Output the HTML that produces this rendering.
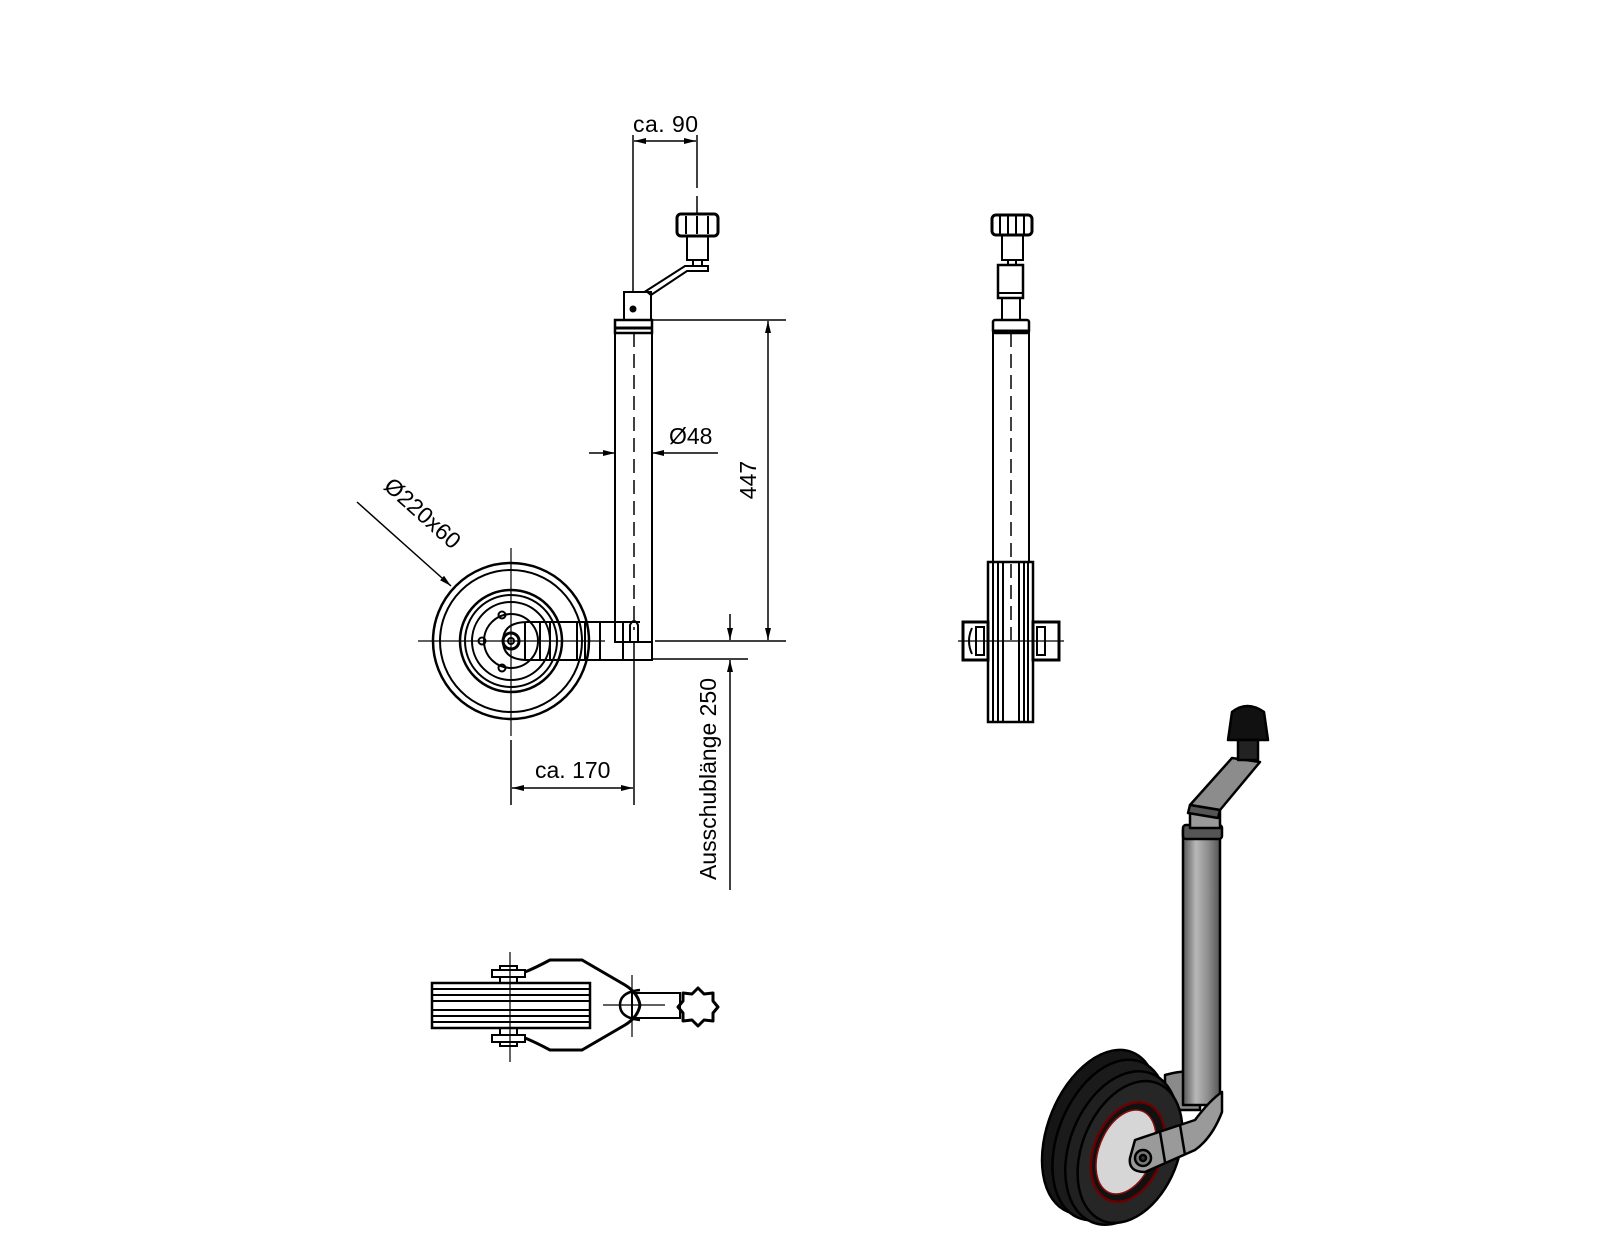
<!DOCTYPE html>
<html><head><meta charset="utf-8"><style>
html,body{margin:0;padding:0;background:#fff}
svg{display:block}
text{font-family:"Liberation Sans Narrow","Liberation Sans",sans-serif;fill:#000}
</style></head><body>
<svg width="1600" height="1236" viewBox="0 0 1600 1236" xmlns="http://www.w3.org/2000/svg">
<defs>
<marker id="a" viewBox="0 0 12 6" refX="12" refY="3" markerWidth="12" markerHeight="6" orient="auto-start-reverse" markerUnits="userSpaceOnUse"><path d="M0,0 L12,3 L0,6 z" fill="#000"/></marker>
<linearGradient id="tg" x1="0" x2="1"><stop offset="0" stop-color="#555"/><stop offset="0.35" stop-color="#b8b8b8"/><stop offset="0.7" stop-color="#8a8a8a"/><stop offset="1" stop-color="#555"/></linearGradient>
</defs>
<g fill="none" stroke="#000" stroke-width="2">
<!-- ca. 90 -->
<line x1="633" y1="135" x2="633" y2="292" stroke-width="1.5"/>
<line x1="697" y1="135" x2="697" y2="188" stroke-width="1.5"/>
<line x1="697" y1="196" x2="697" y2="214" stroke-width="1.5"/>
<line x1="634" y1="141" x2="696" y2="141" stroke-width="1.5" marker-start="url(#a)" marker-end="url(#a)"/>
<!-- knob -->
<rect x="677" y="214" width="41" height="22" rx="4" stroke-width="3"/>
<line x1="686" y1="216" x2="686" y2="234"/><line x1="697" y1="216" x2="697" y2="234"/><line x1="708" y1="216" x2="708" y2="234"/>
<rect x="687" y="236" width="21" height="24"/>
<rect x="693" y="260" width="9" height="6"/>
<path d="M685,266 L708,266 L708,271 L687,271 L651,295 L646,291 Z"/>
<!-- top block -->
<rect x="624" y="292" width="27" height="28"/>
<circle cx="633" cy="309" r="2.5" fill="#000"/>
<!-- tube -->
<rect x="615" y="320" width="37" height="322"/>
<rect x="615" y="320" width="37" height="13" stroke-width="2.5"/>
<line x1="615" y1="328" x2="652" y2="328" stroke-width="3"/>
<line x1="634" y1="333" x2="634" y2="630" stroke-dasharray="14,7" stroke-width="1.5"/>
<line x1="634" y1="642" x2="634" y2="805" stroke-width="1.5"/>
<!-- foot -->
<path d="M630,642 L630,625 Q634,617 638,625 L638,642 L652,642 L652,660 L630,660"/>
<!-- arm -->
<path d="M640,622 L528,622 Q503,622 503,641 Q503,660 528,660 L640,660"/>
<line x1="525" y1="622" x2="525" y2="660"/><line x1="540" y1="622" x2="540" y2="660"/><line x1="550" y1="622" x2="550" y2="660"/>
<line x1="577" y1="622" x2="577" y2="660"/><line x1="585" y1="622" x2="585" y2="660"/><line x1="600" y1="622" x2="600" y2="660"/>
<line x1="623" y1="622" x2="623" y2="660"/>
<!-- wheel -->
<circle cx="511" cy="641" r="78" stroke-width="2.5"/>
<circle cx="511" cy="641" r="71" stroke-width="2"/>
<circle cx="511" cy="641" r="51" stroke-width="2.5"/>
<circle cx="511" cy="641" r="46"/>
<circle cx="511" cy="641" r="39"/>
<circle cx="511" cy="641" r="27"/>
<circle cx="511" cy="641" r="8" stroke-width="3"/>
<circle cx="511" cy="641" r="3"/>
<circle cx="502" cy="615" r="3.5"/><circle cx="482" cy="641" r="3.5"/><circle cx="502" cy="668" r="3.5"/>
<line x1="418" y1="641" x2="605" y2="641" stroke-width="1.2"/>
<line x1="511" y1="548" x2="511" y2="736" stroke-width="1.2"/>
<line x1="511" y1="740" x2="511" y2="805" stroke-width="1.5"/>
<!-- Ø220 leader -->
<line x1="357" y1="502" x2="451" y2="586" stroke-width="1.5" marker-end="url(#a)"/>
<!-- ca. 170 -->
<line x1="512" y1="788" x2="633" y2="788" stroke-width="1.5" marker-start="url(#a)" marker-end="url(#a)"/>
<!-- Ø48 -->
<line x1="589" y1="453" x2="615" y2="453" stroke-width="1.5" marker-end="url(#a)"/>
<line x1="718" y1="453" x2="652" y2="453" stroke-width="1.5" marker-end="url(#a)"/>
<!-- 447 -->
<line x1="652" y1="320" x2="786" y2="320" stroke-width="1.5"/>
<line x1="655" y1="641" x2="786" y2="641" stroke-width="1.5"/>
<line x1="768" y1="321" x2="768" y2="640" stroke-width="1.5" marker-start="url(#a)" marker-end="url(#a)"/>
<!-- 250 -->
<line x1="652" y1="659" x2="748" y2="659" stroke-width="1.5"/>
<line x1="730" y1="614" x2="730" y2="640" stroke-width="1.5" marker-end="url(#a)"/>
<line x1="730" y1="890" x2="730" y2="660" stroke-width="1.5" marker-end="url(#a)"/>

<!-- front view -->
<rect x="992" y="215" width="40" height="20" rx="4" stroke-width="3"/>
<line x1="1000" y1="216" x2="1000" y2="234"/><line x1="1008" y1="216" x2="1008" y2="234"/><line x1="1016" y1="216" x2="1016" y2="234"/><line x1="1024" y1="216" x2="1024" y2="234"/>
<rect x="1002" y="235" width="21" height="25"/>
<rect x="1008" y="260" width="8" height="5"/>
<rect x="998" y="265" width="25" height="33" stroke-width="2.5"/>
<line x1="998" y1="293" x2="1023" y2="293"/>
<rect x="1002" y="298" width="18" height="22"/>
<rect x="993" y="320" width="36" height="13" rx="2" stroke-width="2.5"/>
<line x1="993" y1="331" x2="1029" y2="331" stroke-width="3"/>
<rect x="993" y="333" width="36" height="229"/>
<line x1="1011" y1="333" x2="1011" y2="640" stroke-dasharray="14,7" stroke-width="1.5"/>
<rect x="988" y="562" width="45" height="160" stroke-width="2.5"/>
<line x1="993" y1="562" x2="993" y2="722"/><line x1="998" y1="562" x2="998" y2="722"/><line x1="1003" y1="562" x2="1003" y2="722"/>
<line x1="1019" y1="562" x2="1019" y2="722"/><line x1="1024" y1="562" x2="1024" y2="722"/><line x1="1028" y1="562" x2="1028" y2="722"/>
<rect x="963" y="622" width="25" height="38" stroke-width="3"/>
<rect x="1033" y="622" width="26" height="38" stroke-width="3"/>
<rect x="976" y="627" width="8" height="28"/><rect x="1037" y="627" width="8" height="28"/>
<path d="M972,628 Q966,641 972,654"/>
<line x1="958" y1="641" x2="1064" y2="641" stroke-width="1.2"/>

<!-- bottom view -->
<rect x="432" y="983" width="158" height="45" stroke-width="2.5"/>
<line x1="432" y1="989" x2="590" y2="989"/><line x1="432" y1="995" x2="590" y2="995"/><line x1="432" y1="1001" x2="590" y2="1001"/>
<line x1="432" y1="1010" x2="590" y2="1010"/><line x1="432" y1="1016" x2="590" y2="1016"/><line x1="432" y1="1022" x2="590" y2="1022"/>
<line x1="510" y1="952" x2="510" y2="1062" stroke-width="1.2"/>
<rect x="492" y="970" width="33" height="7"/><rect x="500" y="966" width="17" height="4"/><rect x="500" y="977" width="17" height="6"/>
<rect x="492" y="1035" width="33" height="7"/><rect x="500" y="1042" width="17" height="4"/><rect x="500" y="1028" width="17" height="7"/>
<path d="M525,972 Q535,968 550,960 L582,960 L625,985 Q638,993 640,1005 Q638,1017 625,1025 L582,1050 L550,1050 Q535,1042 525,1038" stroke-width="3"/>
<path d="M640,990 Q620,992 620,1005 Q620,1018 640,1020" stroke-width="2.5"/>
<rect x="632" y="993" width="48" height="25"/>
<line x1="603" y1="1005" x2="665" y2="1005" stroke-width="1.2"/>
<line x1="632" y1="975" x2="632" y2="1037" stroke-width="1.2"/>
<path d="M698,988 L704,994 L713,993 L713,1001 L718,1007 L713,1013 L713,1021 L704,1020 L698,1026 L692,1020 L683,1021 L683,1013 L678,1007 L683,1001 L683,993 L692,994 Z" stroke-width="3" stroke-linejoin="round"/>
</g>

<!-- texts -->
<text x="633" y="132" font-size="23" textLength="65">ca. 90</text>
<text x="669" y="444" font-size="23">Ø48</text>
<text transform="translate(756,480) rotate(-90)" font-size="23" text-anchor="middle">447</text>
<text transform="translate(412,525) rotate(41.8)" font-size="23" text-anchor="middle" dy="-8">Ø220x60</text>
<text x="535" y="778" font-size="23">ca. 170</text>
<text transform="translate(716,779) rotate(-90)" font-size="23" text-anchor="middle">Ausschublänge  250</text>

<!-- 3D render -->
<g stroke="#000" stroke-width="2.5" stroke-linejoin="round">
<!-- fork back -->
<path d="M1165,1075 Q1190,1068 1200,1075 L1200,1110 L1165,1110 Z" fill="#8a8a8a"/>
<!-- wheel back -->
<ellipse cx="1100" cy="1132" rx="52" ry="86" transform="rotate(22 1100 1132)" fill="#151515"/>
<ellipse cx="1110" cy="1140" rx="52" ry="84" transform="rotate(22 1110 1140)" fill="#1b1b1b"/>
<ellipse cx="1122" cy="1148" rx="52" ry="80" transform="rotate(22 1122 1148)" fill="#202020"/>
<ellipse cx="1130" cy="1152" rx="48" ry="74" transform="rotate(22 1130 1152)" fill="#262626"/>
<ellipse cx="1128" cy="1152" rx="34" ry="52" transform="rotate(22 1128 1152)" fill="#111" stroke="#6a0000"/>
<ellipse cx="1126" cy="1152" rx="27" ry="44" transform="rotate(22 1126 1152)" fill="#d6d6d6" stroke="#8a1010" stroke-width="1.5"/>
<!-- tube -->
<rect x="1183" y="830" width="37" height="275" fill="url(#tg)"/>
<rect x="1183" y="825" width="39" height="14" rx="3" fill="#555"/>
<rect x="1190" y="808" width="30" height="20" fill="#999"/>
<!-- crank -->
<path d="M1232,758 L1260,762 L1220,810 L1190,805 Z" fill="#8c8c8c"/>
<path d="M1190,805 L1220,810 L1218,818 L1188,813 Z" fill="#555"/>
<!-- knob -->
<path d="M1232,712 Q1247,700 1264,712 L1268,740 L1228,740 Z" fill="#111"/>
<rect x="1238" y="740" width="20" height="20" fill="#222"/>
<!-- fork front band -->
<path d="M1135,1140 L1195,1120 Q1210,1100 1222,1092 L1222,1112 Q1212,1138 1195,1150 L1145,1172 Q1128,1172 1130,1158 Z" fill="#9a9a9a"/>
<line x1="1160" y1="1132" x2="1165" y2="1162"/><line x1="1180" y1="1125" x2="1185" y2="1155"/>
<circle cx="1143" cy="1158" r="8" fill="#777"/>
<circle cx="1143" cy="1158" r="3" fill="#333"/>
</g>
</svg>
</body></html>
